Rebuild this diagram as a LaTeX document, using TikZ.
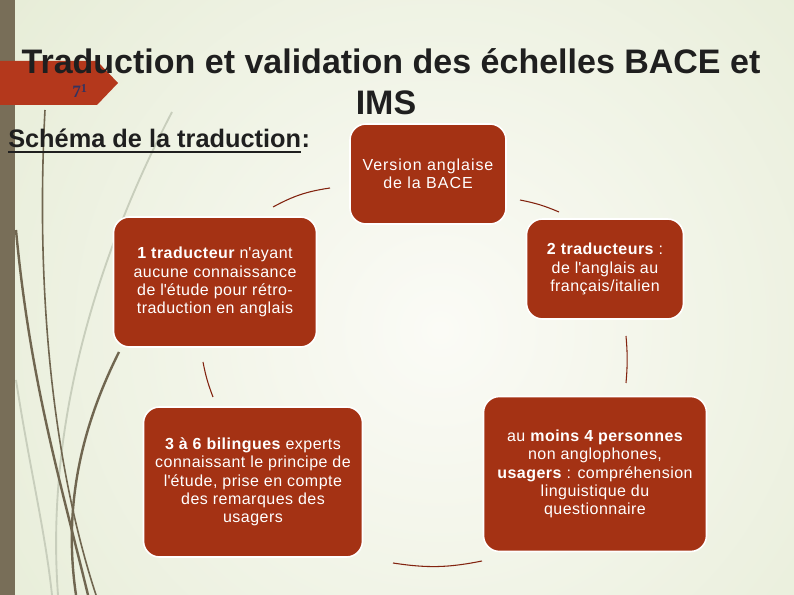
\documentclass[tikz,border=0pt]{standalone}
\usepackage{fontspec}
\setmainfont{Liberation Sans}
\newfontfamily\numfont{Liberation Serif}
\usetikzlibrary{positioning}

\definecolor{bgin}{RGB}{251,251,246}
\definecolor{bgout}{RGB}{214,225,190}
\definecolor{barcol}{RGB}{120,110,88}
\definecolor{tabred}{RGB}{180,56,28}
\definecolor{boxred}{RGB}{164,50,20}
\definecolor{arcred}{RGB}{130,35,15}
\definecolor{stemdark}{RGB}{112,102,80}
\definecolor{stemlight}{RGB}{200,206,188}

\tikzset{
  stepbox/.style={draw=white, line width=1.2pt, fill=boxred, rounded corners=12pt,
    text=white, align=center, inner sep=2pt,
    font=\fontsize{12}{13.7}\selectfont\addfontfeature{LetterSpace=3}},
  ring/.style={draw=arcred, line width=0.8pt},
  stem/.style={draw=stemdark, line width=1.8pt},
  faintstem/.style={draw=stemlight, line width=1.4pt}
}

\begin{document}
\begin{tikzpicture}[x=0.75pt,y=0.75pt,yscale=-1,xscale=1]
    \useasboundingbox (0,0) rectangle (794,595);
    % fond
    \begin{scope}
    \clip (0,0) rectangle (794,595);
    \shade[inner color=bgin, outer color=bgout] (440,330) circle (1000);
    \end{scope}
    \fill[barcol] (0,0) rectangle (15,595);
    % tiges
    \draw[faintstem] (172,112) .. controls (100,250) and (45,420) .. (58,595);
    \draw[faintstem] (16,380) .. controls (30,470) and (45,530) .. (52,595);
    \draw[stem] (16,230) .. controls (30,380) and (60,480) .. (88,595);
    \draw[stem, line width=1.2pt] (45,110) .. controls (35,300) and (55,470) .. (96,595);
    \draw[stem] (119,352) .. controls (85,420) and (62,500) .. (76,595);
    % onglet
    \fill[tabred] (0,61) -- (97,61) -- (118,83) -- (97,105) -- (0,105) -- cycle;
    \node (num) at (80,91) [inner sep=0pt, text=black!70!blue!60!gray,
      font=\numfont\bfseries\fontsize{13}{13}\selectfont] {7\textsuperscript{1}};
    % titre
    \node (titleA) at (391,74) [anchor=base, inner sep=0.75pt, text=black!88,
      font=\bfseries\fontsize{25.5}{30}\selectfont] {Traduction et validation des échelles BACE et};
    \node (titleB) at (386,115) [anchor=base, inner sep=0.75pt, text=black!88,
      font=\bfseries\fontsize{25.5}{30}\selectfont] {IMS};
    \node (schema) at (8,148) [anchor=base west, inner sep=0pt, text=black!88,
      font=\bfseries\fontsize{19}{22}\selectfont] {Schéma de la traduction};
    \node (colon) [right=0pt of schema.base east, anchor=base west, inner sep=0pt, text=black!88,
      font=\bfseries\fontsize{19}{22}\selectfont] {:};
    \draw[line width=1.5pt, black!88] ([yshift=3pt]schema.base west) -- ([yshift=3pt]schema.base east);
    % cycle
    \node (bace) at (428,174) [stepbox, minimum width=117pt, minimum height=75pt,
      font=\fontsize{12}{13.7}\selectfont\addfontfeature{LetterSpace=6}] {Version anglaise\\de la BACE};
    \node (deux) at (605,269) [stepbox, minimum width=117.75pt, minimum height=75pt]
      {{\bfseries 2 traducteurs} :\\de l\textquotesingle anglais au\\français/italien};
    \node (quatre) at (595,474) [stepbox, minimum width=167.25pt, minimum height=116.25pt]
      {au {\bfseries moins 4 personnes}\\non anglophones,\\{\bfseries usagers} : compréhension\\linguistique du\\questionnaire};
    \node (bilingues) at (253,482) [stepbox, minimum width=164.25pt, minimum height=112.5pt]
      {{\bfseries 3 à 6 bilingues} experts\\connaissant le principe de\\l\textquotesingle étude, prise en compte\\des remarques des\\usagers};
    \node (retro) at (215,282) [stepbox, minimum width=152.25pt, minimum height=97.5pt]
      {{\bfseries 1 traducteur} n\textquotesingle ayant\\aucune connaissance\\de l\textquotesingle étude pour rétro-\\traduction en anglais};
    % arcs
    \coordinate (a1s) at (273,207);
    \coordinate (a1e) at (330,188);
    \coordinate (a2s) at (520,200);
    \coordinate (a2e) at (559,212);
    \coordinate (a3s) at (626,336);
    \coordinate (a3e) at (626,383);
    \coordinate (a4s) at (482,561);
    \coordinate (a4e) at (393,563);
    \coordinate (a5s) at (213,397);
    \coordinate (a5e) at (203,362);
    \draw[ring] (a1s) to[bend right=10] (a1e);
    \draw[ring] (a2s) to[bend right=6] (a2e);
    \draw[ring] (a3s) to[bend right=5] (a3e);
    \draw[ring] (a4s) to[bend right=10] (a4e);
    \draw[ring] (a5s) to[bend right=5] (a5e);
\end{tikzpicture}
\end{document}
